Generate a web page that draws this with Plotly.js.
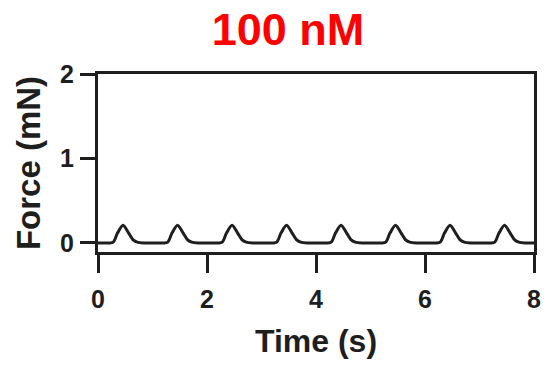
<!DOCTYPE html>
<html>
<head>
<meta charset="utf-8">
<script src="https://cdn.plot.ly/plotly-3.0.1.min.js"></script>
<style>html,body{margin:0;padding:0;background:#fff;}#chart{width:555px;height:365px;}</style>
</head>
<body>
<div id="chart"></div>
<script>
const chartTitle = "100 nM";
const xTitle = "Time (s)";
const yTitle = "Force (mN)";
const xTicks = [0, 2, 4, 6, 8];
const yTicks = [0, 1, 2];
const timeS = [
  0.00,0.20,0.28,0.36,0.46,0.56,0.64,0.72,0.85,
  1.00,1.20,1.28,1.36,1.46,1.56,1.64,1.72,1.85,
  2.00,2.20,2.28,2.36,2.46,2.56,2.64,2.72,2.85,
  3.00,3.20,3.28,3.36,3.46,3.56,3.64,3.72,3.85,
  4.00,4.20,4.28,4.36,4.46,4.56,4.64,4.72,4.85,
  5.00,5.20,5.28,5.36,5.46,5.56,5.64,5.72,5.85,
  6.00,6.20,6.28,6.36,6.46,6.56,6.64,6.72,6.85,
  7.00,7.20,7.28,7.36,7.46,7.56,7.64,7.72,7.85,
  8.00
];
const forceMN = [
  0.00,0.00,0.01,0.12,0.21,0.12,0.04,0.01,0.00,
  0.00,0.00,0.01,0.12,0.21,0.12,0.04,0.01,0.00,
  0.00,0.00,0.01,0.12,0.21,0.12,0.04,0.01,0.00,
  0.00,0.00,0.01,0.12,0.21,0.12,0.04,0.01,0.00,
  0.00,0.00,0.01,0.12,0.21,0.12,0.04,0.01,0.00,
  0.00,0.00,0.01,0.12,0.21,0.12,0.04,0.01,0.00,
  0.00,0.00,0.01,0.12,0.21,0.12,0.04,0.01,0.00,
  0.00,0.00,0.01,0.12,0.21,0.12,0.04,0.01,0.00,
  0.00
];

const ink = "#1e1e1e";
const fam = "Liberation Sans, Arial, sans-serif";

const trace = {
  x: timeS, y: forceMN, type: "scatter", mode: "lines",
  line: {color: ink, width: 3, shape: "spline", smoothing: 0.8},
  hoverinfo: "skip"
};

const layout = {
  width: 555, height: 365,
  margin: {l: 98, r: 21, t: 74, b: 113},
  paper_bgcolor: "#fff", plot_bgcolor: "#fff",
  showlegend: false,
  title: {
    text: chartTitle, x: 0.519, xanchor: "center", y: 0.92, yanchor: "middle", yref: "container",
    font: {family: fam, size: 45, color: "#ff0000", weight: "bold"}
  },
  xaxis: {
    range: [0, 8], tickvals: xTicks, ticktext: xTicks.map(String),
    showgrid: false, zeroline: false, showline: true, linecolor: ink, linewidth: 3, mirror: true,
    ticks: "outside", ticklen: 18, tickwidth: 3, tickcolor: ink,
    ticklabelstandoff: 5,
    tickfont: {family: fam, size: 25, color: ink, weight: "bold"},
    title: {text: xTitle, font: {family: fam, size: 32, color: ink, weight: "bold"}, standoff: 18},
    automargin: false, fixedrange: true
  },
  yaxis: {
    range: [-0.107, 2], tickvals: yTicks, ticktext: yTicks.map(String),
    showgrid: false, zeroline: false, showline: true, linecolor: ink, linewidth: 3, mirror: true,
    ticks: "outside", ticklen: 15, tickwidth: 3, tickcolor: ink,
    ticklabelstandoff: 1,
    tickfont: {family: fam, size: 25, color: ink, weight: "bold"},
    title: {text: yTitle, font: {family: fam, size: 33, color: ink, weight: "bold"}, standoff: 10},
    automargin: false, fixedrange: true
  }
};

Plotly.newPlot("chart", [trace], layout, {staticPlot: true, displayModeBar: false});
</script>
</body>
</html>
